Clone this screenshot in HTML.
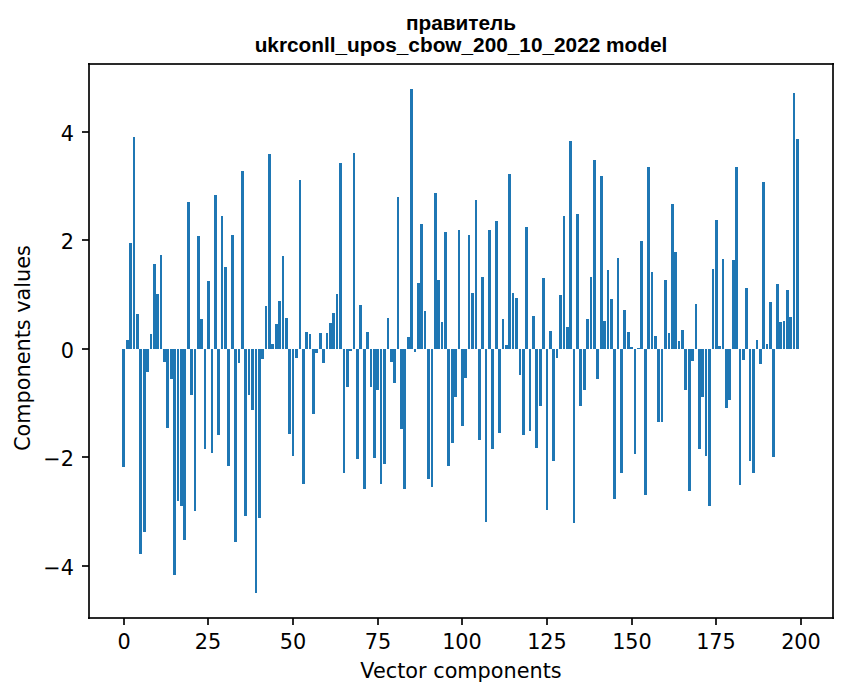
<!DOCTYPE html>
<html lang="uk"><head><meta charset="utf-8"><title>правитель — ukrconll_upos_cbow_200_10_2022 model</title>
<style>html,body{margin:0;padding:0;background:#fff;font-family:"Liberation Sans",sans-serif}svg{display:block}</style></head>
<body><svg width="847" height="696" viewBox="0 0 847 696" role="img" aria-label="правитель ukrconll_upos_cbow_200_10_2022 model: bar chart of Components values over Vector components">
<rect width="847" height="696" fill="#fff"/>
<g shape-rendering="crispEdges" fill="#1f77b4"><path d="M122 349h3v118h-3zM126 340h3v9h-3zM129 243h3v106h-3zM133 137h2v212h-2zM136 314h3v35h-3zM139 349h3v205h-3zM143 349h3v183h-3zM146 349h3v23h-3zM150 334h2v15h-2zM153 264h3v85h-3zM156 294h3v55h-3zM160 255h2v94h-2zM163 349h3v13h-3zM166 349h3v79h-3zM170 349h3v30h-3zM173 349h3v226h-3zM177 349h2v152h-2zM180 349h3v157h-3zM183 349h3v191h-3zM187 202h3v147h-3zM190 349h3v46h-3zM194 349h2v162h-2zM197 236h3v113h-3zM200 319h3v30h-3zM204 349h2v100h-2zM207 281h3v68h-3zM211 349h2v104h-2zM214 195h3v154h-3zM217 349h3v86h-3zM221 216h2v133h-2zM224 267h3v82h-3zM227 349h3v117h-3zM231 235h3v114h-3zM234 349h3v193h-3zM238 349h2v14h-2zM241 171h3v178h-3zM244 349h3v167h-3zM248 349h2v46h-2zM251 349h3v61h-3zM255 349h2v244h-2zM258 349h3v169h-3zM261 349h3v10h-3zM265 306h2v43h-2zM268 154h3v195h-3zM271 344h3v5h-3zM275 324h3v25h-3zM278 301h3v48h-3zM282 256h2v93h-2zM285 318h3v31h-3zM288 349h3v85h-3zM292 349h2v107h-2zM295 349h3v9h-3zM299 180h2v169h-2zM302 349h3v135h-3zM305 332h3v17h-3zM309 334h2v15h-2zM312 349h3v65h-3zM315 349h3v4h-3zM319 333h3v16h-3zM322 349h3v14h-3zM326 333h2v16h-2zM329 323h3v26h-3zM332 313h3v36h-3zM336 294h2v55h-2zM339 163h3v186h-3zM343 349h2v124h-2zM346 349h3v38h-3zM349 349h3v2h-3zM353 153h2v196h-2zM356 349h3v110h-3zM359 305h3v44h-3zM363 349h3v140h-3zM366 332h3v17h-3zM370 349h2v38h-2zM373 349h3v109h-3zM376 349h3v41h-3zM380 349h2v135h-2zM383 349h3v115h-3zM387 318h2v31h-2zM390 349h3v13h-3zM393 349h3v34h-3zM397 197h2v152h-2zM400 349h3v80h-3zM403 349h3v140h-3zM407 337h3v12h-3zM410 89h3v260h-3zM414 349h2v3h-2zM417 283h3v66h-3zM420 224h3v125h-3zM424 311h2v38h-2zM427 349h3v130h-3zM431 349h2v138h-2zM434 193h3v156h-3zM437 280h3v69h-3zM441 322h2v27h-2zM444 232h3v117h-3zM447 349h3v117h-3zM451 349h3v94h-3zM454 349h3v48h-3zM458 230h2v119h-2zM461 349h3v77h-3zM464 349h3v29h-3zM468 235h2v114h-2zM471 293h3v56h-3zM475 200h2v149h-2zM478 349h3v91h-3zM481 277h3v72h-3zM485 349h2v173h-2zM488 230h3v119h-3zM491 349h3v100h-3zM495 221h3v128h-3zM498 349h3v84h-3zM502 319h2v30h-2zM505 345h3v4h-3zM508 174h3v175h-3zM512 293h2v56h-2zM515 298h3v51h-3zM519 349h2v26h-2zM522 349h3v86h-3zM525 227h3v122h-3zM529 349h2v82h-2zM532 316h3v33h-3zM535 349h3v99h-3zM539 349h3v57h-3zM542 278h3v71h-3zM546 349h2v161h-2zM549 331h3v18h-3zM552 349h3v112h-3zM556 349h2v9h-2zM559 295h3v54h-3zM563 216h2v133h-2zM566 327h3v22h-3zM569 141h3v208h-3zM573 349h2v174h-2zM576 214h3v135h-3zM579 349h3v57h-3zM583 349h3v41h-3zM586 319h3v30h-3zM590 277h2v72h-2zM593 160h3v189h-3zM596 349h3v30h-3zM600 176h3v173h-3zM603 321h3v28h-3zM607 270h2v79h-2zM610 299h3v50h-3zM613 349h3v150h-3zM617 258h2v91h-2zM620 349h3v124h-3zM623 310h3v39h-3zM627 332h3v17h-3zM630 347h3v2h-3zM634 349h2v105h-2zM637 348h3v1h-3zM640 241h3v108h-3zM644 349h3v146h-3zM647 167h3v182h-3zM651 272h2v77h-2zM654 336h3v13h-3zM657 349h3v73h-3zM661 349h2v73h-2zM664 280h3v69h-3zM668 333h2v16h-2zM671 204h3v145h-3zM674 252h3v97h-3zM678 341h2v8h-2zM681 330h3v19h-3zM684 349h3v41h-3zM688 349h3v142h-3zM691 349h3v12h-3zM695 304h2v45h-2zM698 349h3v100h-3zM701 349h3v48h-3zM705 349h2v107h-2zM708 349h3v157h-3zM712 269h2v80h-2zM715 220h3v129h-3zM718 346h3v3h-3zM722 259h2v90h-2zM725 349h3v59h-3zM728 349h3v51h-3zM732 260h3v89h-3zM735 167h3v182h-3zM739 349h2v136h-2zM742 349h3v11h-3zM745 288h3v61h-3zM749 349h2v112h-2zM752 349h3v124h-3zM756 340h2v9h-2zM759 349h3v15h-3zM762 182h3v167h-3zM766 344h2v5h-2zM769 302h3v47h-3zM772 349h3v108h-3zM776 284h3v65h-3zM779 322h3v27h-3zM783 321h2v28h-2zM786 290h3v59h-3zM789 317h3v32h-3zM793 93h2v256h-2zM796 139h3v210h-3z"/></g>
<g shape-rendering="crispEdges" fill="#000" fill-opacity="0.8353"><rect x="88" y="63" width="2" height="556"/><rect x="832" y="63" width="2" height="556"/><rect x="88" y="63" width="746" height="2"/><rect x="88" y="617" width="746" height="2"/><rect x="123" y="618" width="2" height="7"/><rect x="207" y="618" width="2" height="7"/><rect x="292" y="618" width="2" height="7"/><rect x="377" y="618" width="2" height="7"/><rect x="461" y="618" width="2" height="7"/><rect x="546" y="618" width="2" height="7"/><rect x="631" y="618" width="2" height="7"/><rect x="715" y="618" width="2" height="7"/><rect x="800" y="618" width="2" height="7"/><rect x="82" y="131" width="7" height="2"/><rect x="82" y="239" width="7" height="2"/><rect x="82" y="348" width="7" height="2"/><rect x="82" y="456" width="7" height="2"/><rect x="82" y="565" width="7" height="2"/></g>
<g fill="#000" font-family="'DejaVu Sans','Liberation Sans',sans-serif" font-size="20.8">
<g text-anchor="middle">
<text x="124" y="649">0</text>
<text x="208" y="649">25</text>
<text x="293" y="649">50</text>
<text x="378" y="649">75</text>
<text x="462" y="649">100</text>
<text x="547" y="649">125</text>
<text x="632" y="649">150</text>
<text x="716" y="649">175</text>
<text x="801" y="649">200</text>
<text x="461" y="677.7">Vector components</text>
<text transform="translate(29.7 348) rotate(-90)">Components values</text>
</g>
<g text-anchor="end">
<text x="74" y="575">−4</text>
<text x="74" y="466">−2</text>
<text x="74" y="358">0</text>
<text x="74" y="249">2</text>
<text x="74" y="141">4</text>
</g>
</g>
<g fill="#000" font-family="'Liberation Sans',sans-serif" font-size="20.8" font-weight="bold" text-anchor="middle">
<text x="461" y="29.8">правитель</text>
<text x="461" y="51.8">ukrconll_upos_cbow_200_10_2022 model</text>
</g>
</svg></body></html>
